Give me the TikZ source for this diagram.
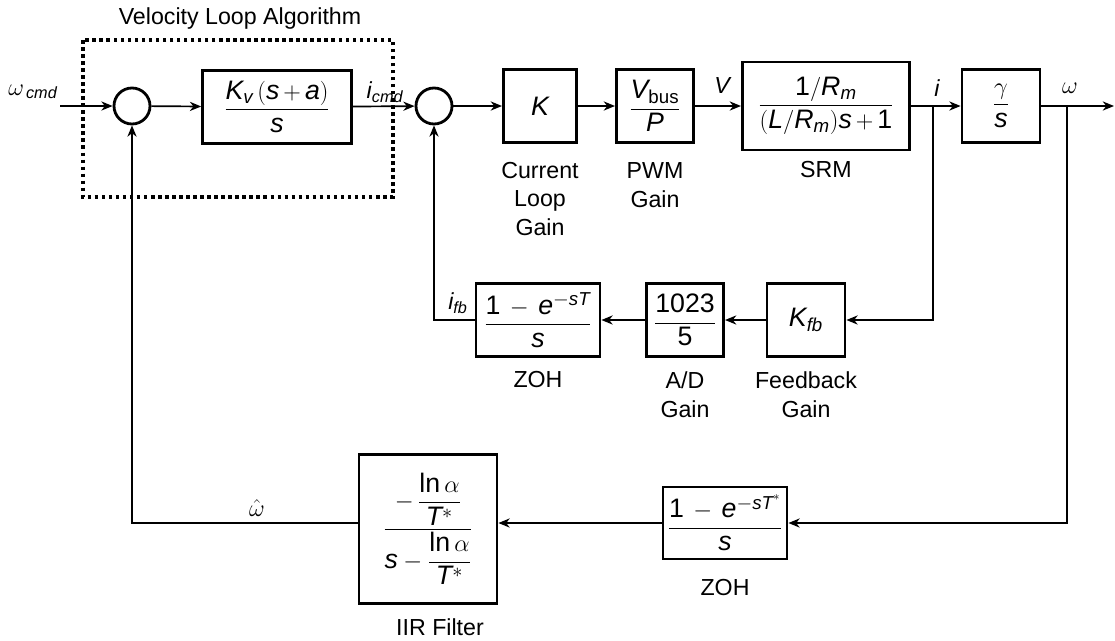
\documentclass[tikz,border=0pt]{standalone}
\usepackage{amsmath}
\usepackage{fontspec}
\setmainfont{Liberation Sans}
\usetikzlibrary{positioning,arrows.meta}
\newcommand{\vv}[1]{\mathit{#1}}
\newcommand{\nn}[1]{\mathrm{#1}}

\begin{document}
\begin{tikzpicture}[x=0.025cm, y=-0.025cm,
    >={Stealth[length=8pt,width=6.5pt,inset=2.5pt]},
    font=\fontsize{16.5}{20.6}\selectfont,
    block/.style={draw, line width=2pt, minimum height=1.82cm, inner sep=1pt,
      font=\fontsize{19}{23}\selectfont},
    sumnode/.style={draw, circle, line width=2pt, minimum size=0.9cm, inner sep=0pt},
    sig/.style={line width=1.2pt},
    caption/.style={align=center}]
  \useasboundingbox (0,0) rectangle (1115,640);

  % velocity loop algorithm
  \node (title) at (240,18) {Velocity Loop Algorithm};
  \draw[line width=2.2pt, dash pattern=on 2.5pt off 2.5pt] (83,40) rectangle (393,197);
  \coordinate (in) at (60,106);
  \node (wcmd) at (33,92) {$\omega_{\,\vv{cmd}}$};
  \node[sumnode] (S1) at (132,106) {};
  \node[block, minimum width=3.72cm] (Kv) at (277,107)
    {$\dfrac{\vv{K}_{\vv{v}}\,(\vv{s}\,\nn{+}\,\vv{a})}{\vv{s}}$};
  \node (icmd) at (385,92) {$\vv{i}_{\vv{cmd}}$};

  % forward path
  \node[sumnode] (S2) at (434,106) {};
  \node[block, minimum width=1.83cm] (K) at (540,106) {$\vv{K}$};
  \node[block, minimum width=1.93cm] (PWM) at (655,106)
    {$\dfrac{\vv{V}_{\mathrm{bus}}}{\vv{P}}$};
  \node (V) at (722,86) {$\vv{V}$};
  \node[block, minimum width=4.18cm, minimum height=2.2cm] (SRM) at (826,106)
    {$\dfrac{\nn{1}/\vv{R}_{\vv{m}}}{(\vv{L}/\vv{R}_{\vv{m}})\vv{s}\,\nn{+}\,\nn{1}}$};
  \node (i) at (937,88) {$\vv{i}$};
  \coordinate (bi) at (933,106);
  \node[block, minimum width=1.95cm] (G) at (1001,106) {$\dfrac{\gamma}{\vv{s}}$};
  \node (w) at (1070,88) {$\omega$};
  \coordinate (bw) at (1067,106);
  \coordinate (out) at (1114,106);

  \node[caption] (cK) at (540,199) {Current\\Loop\\Gain};
  \node[caption] (cPWM) at (655,185) {PWM\\Gain};
  \node[caption] (cSRM) at (826,170) {SRM};

  % current feedback
  \node[block, minimum width=1.95cm] (Kfb) at (806,320) {$\vv{K}_{\vv{fb}}$};
  \node[block, minimum width=1.93cm] (AD) at (685,320) {$\dfrac{\nn{1023}}{\nn{5}}$};
  \node[block, minimum width=3.1cm] (ZOHa) at (538,320)
    {$\dfrac{\nn{1}\,-\,\vv{e}^{-\vv{sT}}}{\vv{s}}$};
  \node (ifb) at (458,303) {$\vv{i}_{\vv{fb}}$};
  \node[caption] (cZOHa) at (538,380) {ZOH};
  \node[caption] (cAD) at (685,395) {A/D\\Gain};
  \node[caption] (cKfb) at (806,395) {Feedback\\Gain};

  % velocity feedback
  \node[block, minimum width=3.1cm, minimum height=1.8cm] (ZOHb) at (725,523)
    {$\dfrac{\nn{1}\,-\,\vv{e}^{-\vv{sT}^{*}}}{\vv{s}}$};
  \node[block, minimum width=3.45cm, minimum height=3.73cm] (IIR) at (428,529)
    {$\dfrac{-\,\dfrac{\ln\alpha}{\vv{T}^{*}}}{\vv{s}-\dfrac{\ln\alpha}{\vv{T}^{*}}}$};
  \node[anchor=south, inner sep=1pt] (what) at (257,518) {$\hat{\omega}$};
  \node[caption] (cZOHb) at (725,587) {ZOH};
  \node[caption] (cIIR) at (440,627) {IIR Filter};

  \draw[sig,->] (in) -- (S1);
  \draw[sig,->] (S1) -- (Kv);
  \draw[sig,->] (Kv) -- (S2);
  \draw[sig,->] (S2) -- (K);
  \draw[sig,->] (K) -- (PWM);
  \draw[sig,->] (PWM) -- (SRM);
  \draw[sig,->] (SRM.east |- bi) -- (G);
  \draw[sig,->] (G) -- (out);
  \draw[sig,->] (bi) |- (Kfb);
  \draw[sig,->] (Kfb) -- (AD);
  \draw[sig,->] (AD) -- (ZOHa);
  \draw[sig,->] (ZOHa) -| (S2);
  \draw[sig,->] (bw) |- (ZOHb.east);
  \draw[sig,->] (ZOHb.west) -- (ZOHb.west -| IIR.east);
  \draw[sig,->] (IIR.west |- ZOHb.west) -| (S1);
\end{tikzpicture}
\end{document}
